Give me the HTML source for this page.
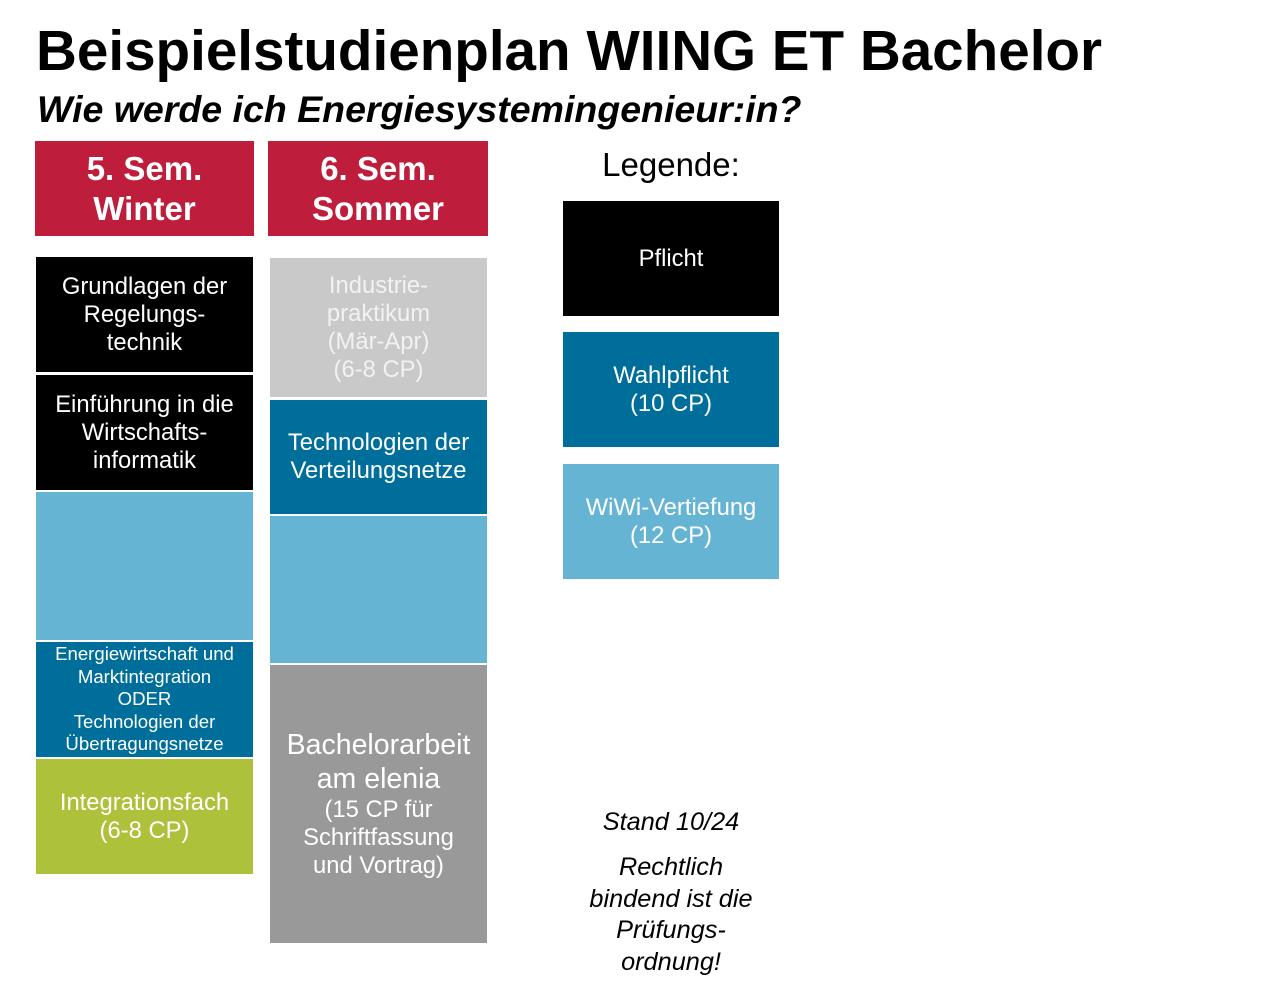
<!DOCTYPE html>
<html><head><meta charset="utf-8"><style>
body{margin:0;width:1280px;height:993px;background:#fff;position:relative;overflow:hidden;font-family:"Liberation Sans",sans-serif}
.a{position:absolute;display:flex;align-items:center;justify-content:center;text-align:center;color:#fff;box-sizing:border-box}
.h{background:#be1e3c;font-weight:bold;font-size:33px;line-height:40px}
.b{font-size:23.8px;line-height:28px}
.k{background:#000}.d{background:#006e9a}.l{background:#66b4d4}.g{background:#adc13a}
.t{position:absolute;white-space:nowrap}
</style></head><body>
<div class="t" style="left:36px;top:18px;font-size:56.6px;font-weight:bold;">Beispielstudienplan WIING ET Bachelor</div>
<div class="t" style="left:37px;top:88px;font-size:37.5px;font-weight:bold;font-style:italic;">Wie werde ich Energiesystemingenieur:in?</div>
<div class="a h" style="left:35px;top:141px;width:219px;height:95px">5. Sem.<br>Winter</div>
<div class="a h" style="left:268px;top:141px;width:220px;height:95px">6. Sem.<br>Sommer</div>

<div class="a b k" style="left:36px;top:257px;width:217px;height:115px">Grundlagen der<br>Regelungs-<br>technik</div>
<div class="a b k" style="left:36px;top:375px;width:217px;height:115px">Einführung in die<br>Wirtschafts-<br>informatik</div>
<div class="a b l" style="left:36px;top:492px;width:217px;height:148px"></div>
<div class="a d" style="left:36px;top:642px;width:217px;height:115px;font-size:18.6px;line-height:22.5px">Energiewirtschaft und<br>Marktintegration<br>ODER<br>Technologien der<br>Übertragungsnetze</div>
<div class="a b g" style="left:36px;top:759px;width:217px;height:115px">Integrationsfach<br>(6-8 CP)</div>

<div class="a b" style="left:270px;top:258px;width:217px;height:139px;background:#c9c9c9;color:#f2f2f2">Industrie-<br>praktikum<br>(Mär-Apr)<br>(6-8 CP)</div>
<div class="a b d" style="left:270px;top:400px;width:217px;height:114px">Technologien der<br>Verteilungsnetze</div>
<div class="a b l" style="left:270px;top:516px;width:217px;height:147px"></div>
<div class="a" style="left:270px;top:665px;width:217px;height:278px;background:#999;font-size:23.8px;line-height:28px;flex-direction:column"><div style="font-size:28.5px;line-height:34px">Bachelorarbeit<br>am elenia</div><div>(15 CP für<br>Schriftfassung<br>und Vortrag)</div></div>

<div class="t" style="left:563px;width:216px;text-align:center;top:146px;font-size:33px;">Legende:</div>
<div class="a b k" style="left:563px;top:201px;width:216px;height:115px">Pflicht</div>
<div class="a b d" style="left:563px;top:332px;width:216px;height:115px">Wahlpflicht<br>(10 CP)</div>
<div class="a b l" style="left:563px;top:464px;width:216px;height:115px">WiWi-Vertiefung<br>(12 CP)</div>

<div class="t" style="left:563px;width:216px;text-align:center;top:808px;font-size:25.3px;font-style:italic;">Stand 10/24</div>
<div class="t" style="left:563px;width:216px;text-align:center;top:852px;font-size:25.3px;font-style:italic;line-height:31.5px;white-space:normal">Rechtlich<br>bindend ist die<br>Prüfungs-<br>ordnung!</div>
</body></html>
